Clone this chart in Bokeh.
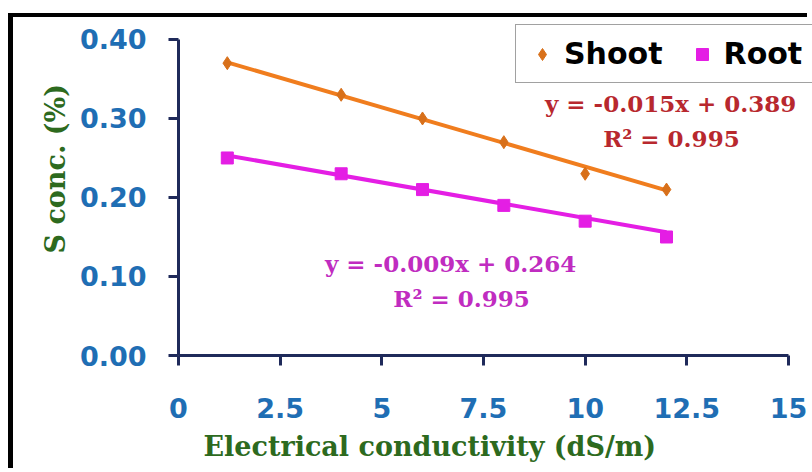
from bokeh.embed import file_html
from bokeh.models import FixedTicker, Label, Legend, LegendItem, Range1d, Title
from bokeh.plotting import figure
from bokeh.resources import INLINE

# Sulphur concentration against salinity of irrigation water
ec = [1.2, 4, 6, 8, 10, 12]
shoot = [0.37, 0.33, 0.30, 0.27, 0.23, 0.21]
root = [0.25, 0.23, 0.21, 0.19, 0.17, 0.15]

# linear trendlines (slope, intercept) and their R²
shoot_fit = (-0.015, 0.389)
root_fit = (-0.009, 0.264)
shoot_r2 = 0.995
root_r2 = 0.995

x_ticks = [0, 2.5, 5, 7.5, 10, 12.5, 15]
x_tick_labels = ["0", "2.5", "5", "7.5", "10", "12.5", "15"]
y_ticks = [0.0, 0.1, 0.2, 0.3, 0.4]
y_tick_labels = ["0.00", "0.10", "0.20", "0.30", "0.40"]

ORANGE = "#F07D1E"
ORANGE_MK = "#D8701A"
MAGENTA = "#E41EE4"
NAVY = "#1F2A5A"
TICK_BLUE = "#1F6EB4"
GREEN = "#2D6A1E"
RED_EQ = "#B8282E"
MAG_EQ = "#C02CC0"

# the frame runs past the axis ends so the legend can sit in the top-right corner
p = figure(
    width=799, height=455,
    x_range=Range1d(0, 15.59), y_range=Range1d(0, 0.4278),
    output_backend="svg", toolbar_location=None,
    min_border_left=165, min_border_right=0,
    min_border_top=0, min_border_bottom=117,
)
p.styles = {
    "margin-left": "8px", "margin-top": "13px",
    "border-left": "5px solid #000", "border-top": "4px solid #000",
}
p.background_fill_color = "white"
p.border_fill_color = "white"
p.outline_line_color = None
p.xgrid.visible = False
p.ygrid.visible = False

for ax in (p.xaxis[0], p.yaxis[0]):
    ax.axis_line_color = NAVY
    ax.axis_line_width = 3
    ax.major_tick_line_color = NAVY
    ax.major_tick_line_width = 3
    ax.major_tick_in = 0
    ax.major_tick_out = 10
    ax.minor_tick_line_color = None
    ax.major_label_text_color = TICK_BLUE
    ax.major_label_text_font = "DejaVu Sans"
    ax.major_label_text_font_style = "bold"
    ax.major_label_text_font_size = "27px"

p.xaxis.bounds = (0, 15)
p.xaxis.ticker = FixedTicker(ticks=x_ticks)
p.xaxis.major_label_overrides = {t: s for t, s in zip(x_ticks, x_tick_labels)}
p.xaxis.major_label_standoff = 32
p.yaxis.bounds = (0, 0.4)
p.yaxis.ticker = FixedTicker(ticks=y_ticks)
p.yaxis.major_label_overrides = {t: s for t, s in zip(y_ticks, y_tick_labels)}
p.yaxis.major_label_standoff = 22

# trendlines across the measured range
x0, x1 = ec[0], ec[-1]
p.line([x0, x1], [shoot_fit[0] * x0 + shoot_fit[1], shoot_fit[0] * x1 + shoot_fit[1]],
       line_color=ORANGE, line_width=4)
p.line([x0, x1], [root_fit[0] * x0 + root_fit[1], root_fit[0] * x1 + root_fit[1]],
       line_color=MAGENTA, line_width=4)

r_shoot = p.scatter(ec, shoot, marker="diamond", size=13,
                    fill_color=ORANGE_MK, line_color=ORANGE_MK)
r_root = p.scatter(ec, root, marker="square", size=12,
                   fill_color=MAGENTA, line_color=MAGENTA)

legend = Legend(
    items=[LegendItem(label="Shoot", renderers=[r_shoot]),
           LegendItem(label="Root", renderers=[r_root])],
    orientation="horizontal", location=(337, 272),
    border_line_color="#444444", border_line_width=1.5,
    background_fill_color="white", background_fill_alpha=1,
    label_text_font="DejaVu Sans", label_text_font_style="bold",
    label_text_font_size="30px", label_text_color="black",
    glyph_width=30, glyph_height=30, label_standoff=7,
    spacing=24, padding=11, margin=0,
)
p.add_layout(legend)

eq_font = dict(text_font="DejaVu Serif", text_font_style="bold",
               text_font_size="23px", text_align="center", text_baseline="middle")


def eq_text(fit):
    return f"y = {fit[0]:.3f}x + {fit[1]:.3f}"


p.add_layout(Label(x=12.1, y=0.319, text=eq_text(shoot_fit), text_color=RED_EQ, **eq_font))
p.add_layout(Label(x=12.12, y=0.2747, text=f"R² = {shoot_r2:.3f}", text_color=RED_EQ, **eq_font))
p.add_layout(Label(x=6.69, y=0.1165, text=eq_text(root_fit), text_color=MAG_EQ, **eq_font))
p.add_layout(Label(x=6.96, y=0.072, text=f"R² = {root_r2:.3f}", text_color=MAG_EQ, **eq_font))

# axis titles
p.add_layout(Title(text="Electrical conductivity (dS/m)", align="left", offset=25,
                   standoff=17, text_font="DejaVu Serif", text_font_style="bold",
                   text_font_size="27px", text_color=GREEN), "below")
p.add_layout(Title(text="S conc. (%)", align="left", offset=102,
                   standoff=11, text_font="DejaVu Serif", text_font_style="bold",
                   text_font_size="27px", text_color=GREEN), "left")

open("out.html", "w").write(file_html(p, INLINE))
